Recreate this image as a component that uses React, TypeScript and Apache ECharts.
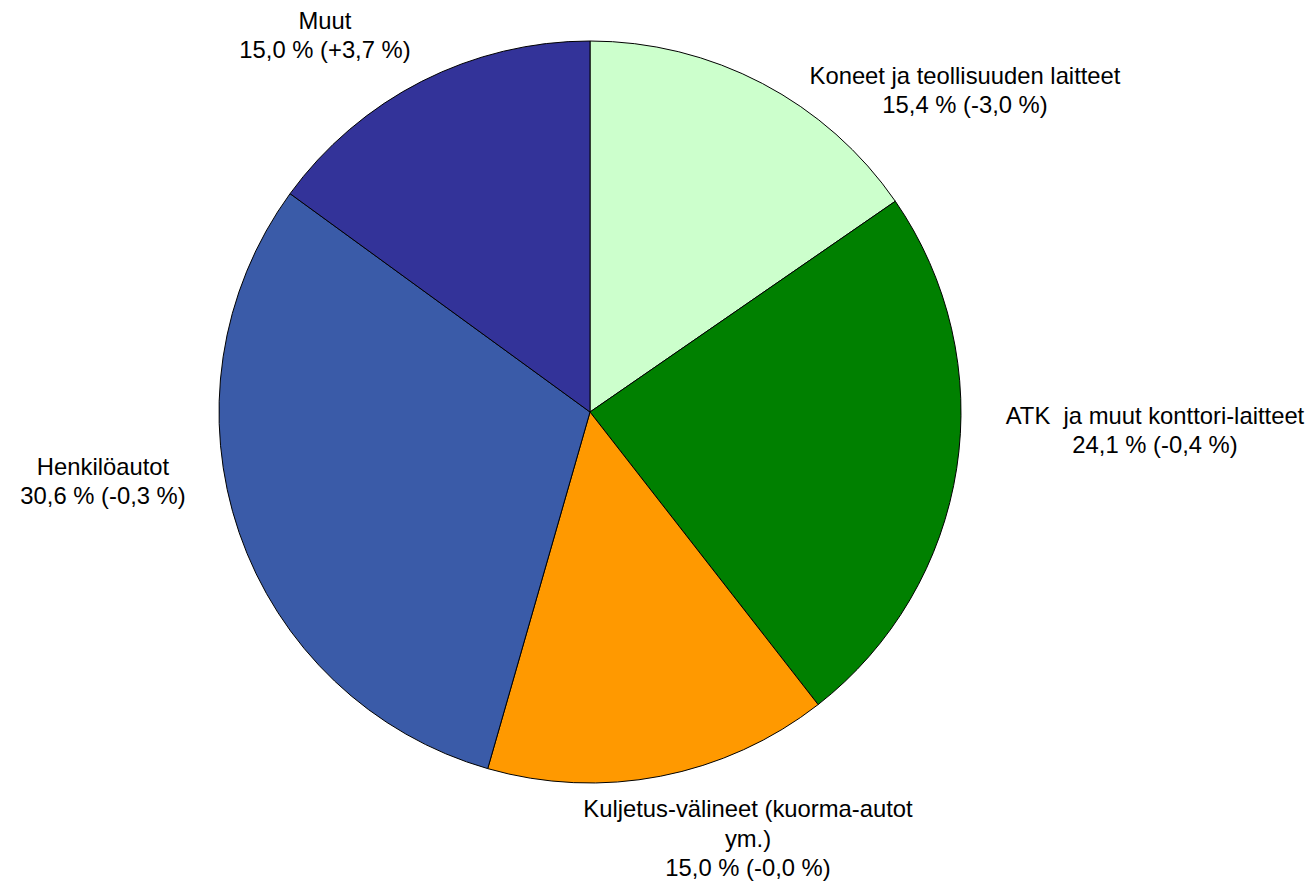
import React, { useEffect, useRef } from "react";
import * as echarts from "echarts";

const categories = [
  "Koneet ja teollisuuden laitteet",
  "ATK  ja muut konttori-laitteet",
  "Kuljetus-välineet (kuorma-autot\nym.)",
  "Henkilöautot",
  "Muut",
];
const shares = [15.4, 24.1, 15.0, 30.6, 15.0];
const changes = [-3.0, -0.4, -0.0, -0.3, 3.7];
const colors = ["#CCFFCC", "#008000", "#FF9900", "#3A5BA8", "#333399"];

// label centre positions (layout, px)
const labelCenters: [number, number][] = [
  [965, 90],
  [1155, 430],
  [748, 838],
  [103, 481],
  [325, 35],
];

const fmt = (v: number) => v.toFixed(1).replace(".", ",");
const fmtChange = (v: number) =>
  (v < 0 || Object.is(v, -0) ? "-" : "+") + fmt(Math.abs(v));

export default function App() {
  const ref = useRef<HTMLDivElement>(null);
  useEffect(() => {
    if (!ref.current) return;
    const chart = echarts.init(ref.current, null, { renderer: "svg" });
    chart.setOption({
      animation: false,
      backgroundColor: "#ffffff",
      series: [
        {
          type: "pie",
          center: [590, 412],
          radius: 371,
          startAngle: 90,
          clockwise: true,
          avoidLabelOverlap: false,
          itemStyle: { borderColor: "#000000", borderWidth: 1 },
          label: {
            show: true,
            position: "outside",
            color: "#000000",
            fontFamily: "Liberation Sans, Arial, sans-serif",
            fontSize: 23.8,
            lineHeight: 29.5,
            align: "center",
            formatter: (p: any) =>
              `${p.name}\n${fmt(p.value)} % (${fmtChange(changes[p.dataIndex])} %)`,
          },
          labelLine: { show: false },
          labelLayout: (p: any) => ({
            x: labelCenters[p.dataIndex][0],
            y: labelCenters[p.dataIndex][1],
            align: "center",
            verticalAlign: "middle",
          }),
          emphasis: { disabled: true },
          data: categories.map((name, i) => ({
            name,
            value: shares[i],
            itemStyle: { color: colors[i] },
          })),
        },
      ],
    });
    return () => chart.dispose();
  }, []);
  return (
    <div
      ref={ref}
      style={{ position: "fixed", left: 0, top: 0, width: 1315, height: 887 }}
    />
  );
}
